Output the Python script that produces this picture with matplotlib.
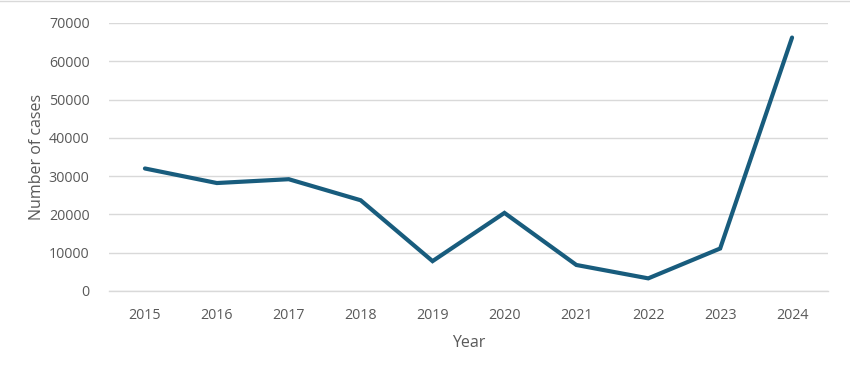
import matplotlib
matplotlib.use("Agg")
import matplotlib.pyplot as plt
from matplotlib.lines import Line2D

years = ["2015", "2016", "2017", "2018", "2019", "2020", "2021", "2022", "2023", "2024"]
cases = [32000, 28200, 29200, 23700, 7800, 20400, 6800, 3300, 11100, 66200]
yticks = [0, 10000, 20000, 30000, 40000, 50000, 60000, 70000]

plt.rcParams['font.family'] = ['Open Sans', 'DejaVu Sans']
txt = '#595959'

fig = plt.figure(figsize=(8.5, 3.69), dpi=100)
ax = fig.add_axes([109/850, 1-291/369, (828-109)/850, (291-23)/369])

x = list(range(len(years)))
ax.plot(x, cases, color='#185c7d', linewidth=3, solid_capstyle='round', solid_joinstyle='miter', zorder=3)

ax.set_xlim(-0.5, len(years) - 0.5)
ax.set_ylim(0, 70000)
ax.set_yticks(yticks)
ax.set_yticklabels([str(v) for v in yticks])
ax.set_xticks(x)
ax.set_xticklabels(years)
ax.grid(axis='y', color='#d9d9d9', linewidth=1)
ax.set_axisbelow(True)
for s in ['top', 'right', 'left']:
    ax.spines[s].set_visible(False)
ax.spines['bottom'].set_color('#d9d9d9')
ax.spines['bottom'].set_linewidth(1)
ax.tick_params(axis='both', length=0, colors=txt, labelsize=10.3)
ax.tick_params(axis='y', pad=14)
ax.tick_params(axis='x', pad=12)
ax.set_xlabel('Year', color=txt, fontsize=11.5, labelpad=9)
ax.set_ylabel('Number of cases', color=txt, fontsize=11.5, labelpad=3)

fig.add_artist(Line2D([0, 1], [0.998, 0.998], color='#d9d9d9', linewidth=1, transform=fig.transFigure))

fig.savefig('out.png', dpi=100)
